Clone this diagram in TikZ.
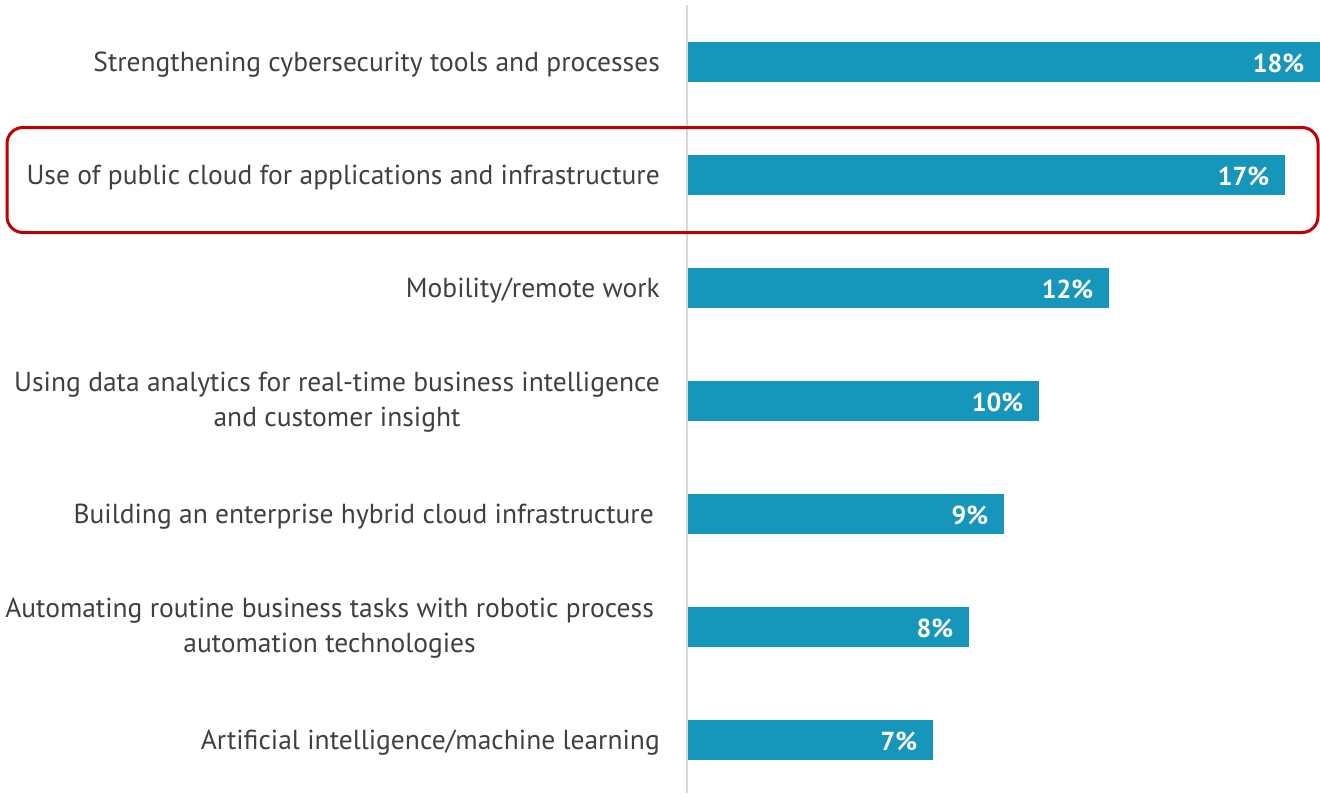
\documentclass[tikz,border=0pt]{standalone}
\usepackage{fontspec}
\setmainfont{PT Sans}
\usetikzlibrary{positioning}
\definecolor{barblue}{RGB}{21,150,186}
\definecolor{boxred}{RGB}{192,0,0}
\definecolor{labelgrey}{RGB}{64,64,64}
\definecolor{axisgrey}{RGB}{217,217,217}

\begin{document}
\begin{tikzpicture}[x=1pt, y=-1pt, every text node part/.style={align=center},
  lbl/.style={anchor=east, text=labelgrey, inner sep=0pt, font=\fontsize{27.5}{35}\selectfont},
  bar/.style={anchor=west, fill=barblue, minimum height=40pt, inner sep=0pt},
  pct/.style={anchor=east, text=white, inner sep=0pt, font=\bfseries\fontsize{26}{28}\selectfont},
  hilite/.style={draw=boxred, line width=3pt, rounded corners=16pt, inner sep=0pt}]
\useasboundingbox (0,0) rectangle (1320,793);

% axis
\coordinate (axtop) at (687,5);
\coordinate (axbot) at (687,793);
\draw[axisgrey, line width=2pt] (axtop) -- (axbot);

% highlight box
\node[hilite, minimum width=1311pt, minimum height=105pt] (box) at (662.5,180) {};

% bars
\node[bar, minimum width=632pt] (b18) at (688,62) {};
\node[bar, minimum width=597pt] (b17) at (688,175) {};
\node[bar, minimum width=421pt] (b12) at (688,288) {};
\node[bar, minimum width=351pt] (b10) at (688,401) {};
\node[bar, minimum width=316pt] (b9) at (688,514) {};
\node[bar, minimum width=281pt] (b8) at (688,627) {};
\node[bar, minimum width=245pt] (b7) at (688,740) {};

% values
\node[pct] (p18) at ([xshift=-16pt,yshift=-1pt]b18.east) {18\%};
\node[pct] (p17) at ([xshift=-16pt,yshift=-1pt]b17.east) {17\%};
\node[pct] (p12) at ([xshift=-16pt,yshift=-1pt]b12.east) {12\%};
\node[pct] (p10) at ([xshift=-16pt,yshift=-1pt]b10.east) {10\%};
\node[pct] (p9) at ([xshift=-16pt,yshift=-1pt]b9.east) {9\%};
\node[pct] (p8) at ([xshift=-16pt,yshift=-1pt]b8.east) {8\%};
\node[pct] (p7) at ([xshift=-16pt,yshift=-1pt]b7.east) {7\%};

% labels
\node[lbl] (l1) at (660,65) {Strengthening cybersecurity tools and processes};
\node[lbl] (l2) at (660,178) {Use of public cloud for applications and infrastructure};
\node[lbl] (l3) at (660,291) {Mobility/remote work};
\node[lbl] (l4) at (660,402) {Using data analytics for real-time business intelligence\\and customer insight};
\node[lbl] (l5) at (654,517) {Building an enterprise hybrid cloud infrastructure};
\node[lbl] (l6) at (654,628) {Automating routine business tasks with robotic process\\automation technologies};
\node[lbl] (l7) at (660,743) {Artificial intelligence/machine learning};
\end{tikzpicture}
\end{document}
